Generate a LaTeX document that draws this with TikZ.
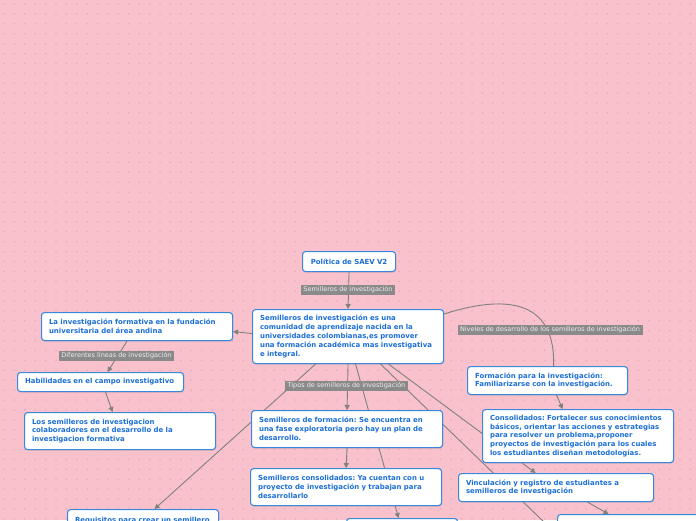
\documentclass[tikz,border=0pt]{standalone}
\usepackage{fontspec}
\setmainfont{DejaVu Sans}
\frenchspacing
\usetikzlibrary{shadows,arrows.meta}
\pgfdeclarelayer{bg}
\pgfdeclarelayer{lines}
\pgfsetlayers{bg,lines,main}
\definecolor{bgpink}{RGB}{248,193,204}
\definecolor{dotpink}{RGB}{224,166,178}
\definecolor{boxblue}{RGB}{58,136,222}
\definecolor{txtblue}{RGB}{26,110,214}
\definecolor{lblgray}{RGB}{138,138,138}
\definecolor{lbltxt}{RGB}{238,238,238}
\definecolor{conngray}{RGB}{128,128,128}
\tikzset{
  mbox/.style={draw=boxblue, line width=1.1pt, fill=white, rounded corners=3pt,
    text=txtblue, font=\fontsize{6.95}{8.8}\selectfont\bfseries, align=left,
    inner xsep=7.5pt, inner ysep=2pt, anchor=north west,
    drop shadow={shadow xshift=0.6pt, shadow yshift=-1pt, opacity=0.25}},
  lbl/.style={fill=lblgray, text=lbltxt, font=\fontsize{6.5}{7.5}\selectfont,
    inner xsep=2.5pt, inner ysep=1.6pt},
  conn/.style={draw=conngray, line width=0.9pt},
  arr/.style={conn, -{Triangle[length=5pt,width=5pt]}}
}
\begin{document}
\begin{tikzpicture}[x=1pt,y=-1pt]
\useasboundingbox (0,0) rectangle (696,520);
\begin{pgfonlayer}{bg}
\clip (0,0) rectangle (696,520);
\fill[bgpink] (0,0) rectangle (696,520);
\foreach \i in {0,...,67}{
  \foreach \j in {0,...,52}{
    \fill[dotpink] ({4+\i*10.4},{4+\j*9.9}) circle (0.75);
  }
}
\end{pgfonlayer}
\clip (0,0) rectangle (696,520);
% nodes
\node[mbox, align=center, text width=78pt, minimum height=20pt] (A) at (302,251) {Política de SAEV V2};
\node[mbox, text width=176pt, minimum height=54pt] (B) at (252,309) {Semilleros de investigación es una\\comunidad de aprendizaje nacida en la\\universidades colombianas,es promover\\una formación académica mas investigativa\\e integral.};
\node[mbox, text width=176pt, minimum height=28pt] (C) at (41,312) {La investigación formativa en la fundación\\universitaria del área andina};
\node[mbox, text width=151pt, minimum height=19pt] (D) at (17,372) {Habilidades en el campo investigativo};
\node[mbox, text width=176pt, minimum height=37pt] (E) at (24,412) {Los semilleros de investigacion\\colaboradores en el desarrollo de la\\investigacion formativa};
\node[mbox, text width=145pt, minimum height=28pt] (F) at (467,366) {Formación para la investigación:\\Familiarizarse con la investigación.};
\node[mbox, text width=176pt, minimum height=53pt] (G) at (482,409) {Consolidados: Fortalecer sus conocimientos\\básicos, orientar las acciones y estrategias\\para resolver un problema,proponer\\proyectos de investigación para los cuales\\los estudiantes diseñan metodologías.};
\node[mbox, text width=180pt, minimum height=28pt] (H) at (458,473) {Vinculación y registro de estudiantes a\\semilleros de investigación};
\node[mbox, text width=176pt, minimum height=37pt] (K) at (251,410) {Semilleros de formación: Se encuentra en\\una fase exploratoria pero hay un plan de\\desarrollo.};
\node[mbox, text width=176pt, minimum height=37pt] (L) at (250,468) {Semilleros consolidados: Ya cuentan con u\\proyecto de investigación y trabajan para\\desarrollarlo};
\node[mbox, text width=96pt, minimum height=30pt] (I) at (346,518) {};
\node[mbox, text width=135pt, minimum height=30pt] (J) at (557,514) {};
\node[mbox, text width=136pt, minimum height=30pt, inner ysep=5pt] (R) at (67,509) {Requisitos para crear un semillero\\\phantom{x}};
\coordinate (offB) at (575,552);
% connectors (behind boxes)
\begin{pgfonlayer}{lines}
\clip (0,0) rectangle (696,520);
\draw[arr] (A.south) -- (B.north);
\draw[arr] ([yshift=3pt]B.west) -- ([yshift=-5pt]C.east);
\draw[arr] ([xshift=-10pt]C.south) -- ([xshift=7pt]D.north);
\draw[arr] ([xshift=5pt]D.south) -- ([xshift=-7.5pt]E.north);
\draw[arr] (B.south) -- (K.north);
\draw[arr] (K.south) -- (L.north);
\draw[arr] ([xshift=-32.5pt]B.south) -- ([xshift=11.5pt]R.north);
\draw[arr] ([xshift=7.5pt]B.south) -- ([xshift=-3.5pt]I.north);
\draw[arr] ([xshift=40.5pt]B.south) -- ([xshift=-20.5pt]H.north);
\draw[arr] ([xshift=32.5pt]B.south) -- (offB);
\draw[arr] ([xshift=31.5pt]H.south) -- ([xshift=-24pt]J.north);
\draw[arr] ([xshift=9pt]F.south) -- ([xshift=-15.5pt]G.north);
\draw[conn] ([yshift=-5pt]B.north east) .. controls (500,296) and (556,296) .. ([xshift=6pt]F.north);
\end{pgfonlayer}
% labels on connectors
\node[lbl] (l1) at (348,290) {Semilleros de investigación};
\node[lbl] (l2) at (116.5,356) {Diferentes líneas de investigación};
\node[lbl] (l3) at (550,330) {Niveles de desarrollo de los semilleros de investigación};
\node[lbl] (l4) at (346.5,386) {Tipos de semilleros de investigación};
\end{tikzpicture}
\end{document}
